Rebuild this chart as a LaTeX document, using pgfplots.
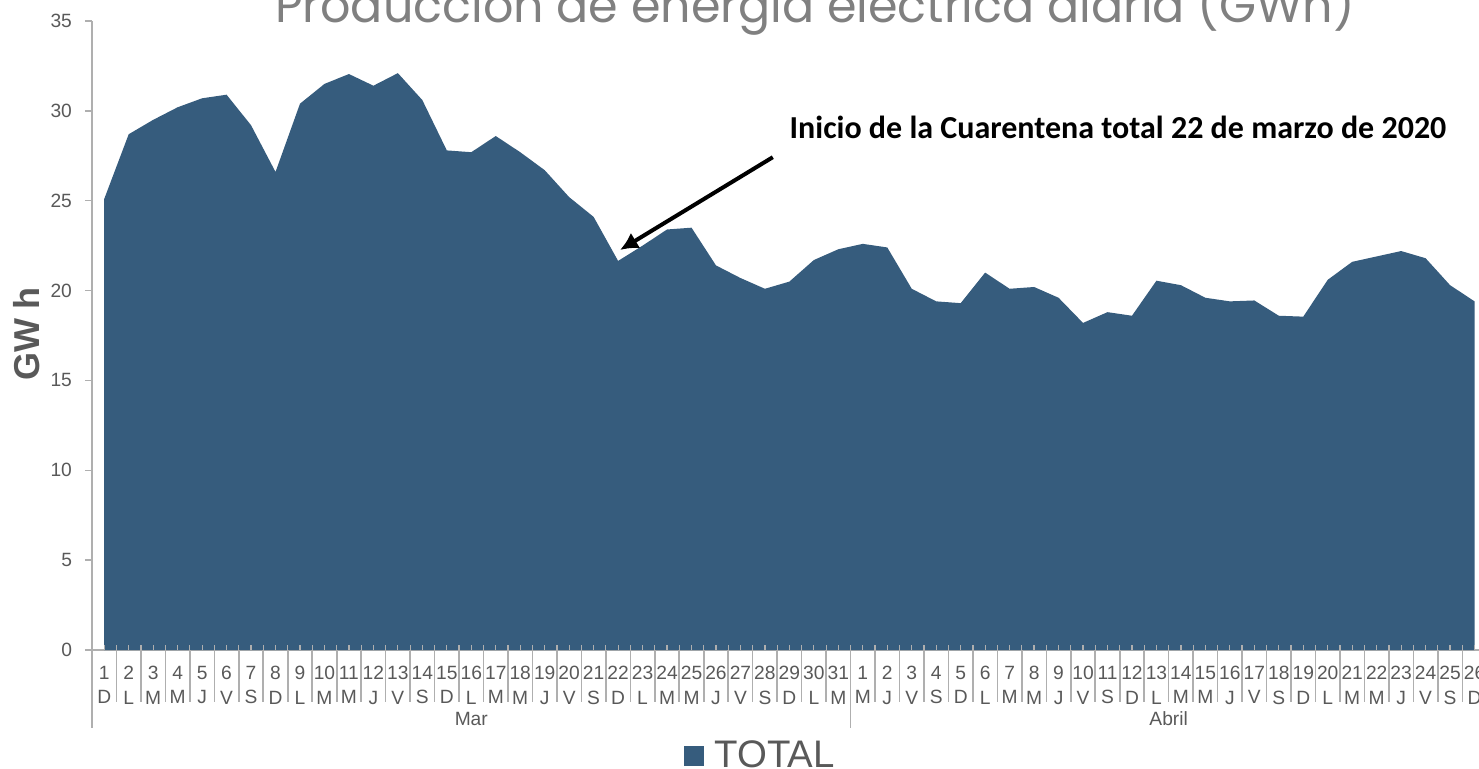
\documentclass[border=0pt]{standalone}
\usepackage{pgfplots}
\pgfplotsset{compat=1.18}
\usepackage{pgfplotstable}
\usepackage{fontspec}
\setmainfont{Liberation Sans}
\newfontfamily\titlefont{Poppins}
\newfontfamily\notefont{Carlito}
\usetikzlibrary{arrows.meta}
\definecolor{areablue}{RGB}{54,92,125}
\definecolor{axgray}{RGB}{175,175,175}
\definecolor{txtgray}{RGB}{89,89,89}
\definecolor{ttlgray}{RGB}{128,128,128}

\pgfplotstableread{
x y
1 25.1
2 28.7
3 29.5
4 30.2
5 30.7
6 30.9
7 29.2
8 26.6
9 30.4
10 31.5
11 32.05
12 31.4
13 32.1
14 30.6
15 27.8
16 27.7
17 28.6
18 27.7
19 26.7
20 25.2
21 24.1
22 21.65
23 22.5
24 23.4
25 23.5
26 21.4
27 20.7
28 20.1
29 20.5
30 21.7
31 22.3
32 22.6
33 22.4
34 20.1
35 19.4
36 19.3
37 21.0
38 20.1
39 20.2
40 19.6
41 18.2
42 18.8
43 18.6
44 20.55
45 20.3
46 19.6
47 19.4
48 19.45
49 18.6
50 18.55
51 20.6
52 21.6
53 21.9
54 22.2
55 21.8
56 20.3
57 19.4
}\datatable

\begin{document}
\begin{tikzpicture}
\begin{axis}[
  at={(46pt,59pt)}, anchor=south west,
  scale only axis, width=697.4pt, height=314.5pt,
  xmin=0.5, xmax=57.5, ymin=0, ymax=35,
  axis x line=bottom, axis y line=left,
  axis line style={-, draw=axgray, line width=0.7pt},
  tick style={draw=axgray, line width=0.7pt},
  tick align=outside, major tick length=3.5pt,
  ytick={0,5,...,35},
  xtick={1,...,57},
  xtick style={draw=none},
  xticklabels={{1\\D},{2\\L},{3\\M},{4\\M},{5\\J},{6\\V},{7\\S},{8\\D},{9\\L},{10\\M},{11\\M},{12\\J},{13\\V},{14\\S},{15\\D},{16\\L},{17\\M},{18\\M},{19\\J},{20\\V},{21\\S},{22\\D},{23\\L},{24\\M},{25\\M},{26\\J},{27\\V},{28\\S},{29\\D},{30\\L},{31\\M},
    {1\\M},{2\\J},{3\\V},{4\\S},{5\\D},{6\\L},{7\\M},{8\\M},{9\\J},{10\\V},{11\\S},{12\\D},{13\\L},{14\\M},{15\\M},{16\\J},{17\\V},{18\\S},{19\\D},{20\\L},{21\\M},{22\\M},{23\\J},{24\\V},{25\\S},{26\\D}},
  xticklabel style={align=center, font=\fontsize{9.6pt}{12.3pt}\selectfont, text=txtgray, inner sep=0pt, yshift=-4.3pt},
  yticklabel style={font=\fontsize{9.6pt}{11pt}\selectfont, text=txtgray, xshift=-3pt},
  /pgf/number format/assume math mode=true,
  ylabel={GW h},
  ylabel style={at={(axis description cs:-0.0466,0.5024)}, anchor=center, font=\bfseries\fontsize{18pt}{20pt}\selectfont, text=txtgray},
  legend style={at={(axis description cs:0.4245,-0.1685)}, anchor=west, draw=none, fill=none, inner sep=0pt,
    font=\fontsize{19.2pt}{21pt}\selectfont, text=txtgray},
  legend image code/.code={\fill[#1] (0pt,-5pt) rectangle (10pt,5pt);},
  legend cell align=left,
  clip=false,
]
\addplot[fill=areablue, draw=none] table[x=x, y=y] {\datatable} \closedcycle;
\addlegendentry{\hspace{3pt}TOTAL}
\pgfplotsinvokeforeach{0.5,1.5,...,57.5}{
  \draw[axgray, line width=0.8pt] (axis cs:#1,0) -- ([yshift=-26pt]axis cs:#1,0);
  \draw[axgray, line width=0.6pt] (axis cs:#1,0) -- ([yshift=2.5pt]axis cs:#1,0);
}
\pgfplotsinvokeforeach{1,...,57}{
  \draw[axgray, line width=0.6pt] (axis cs:#1,0) -- ([yshift=2.5pt]axis cs:#1,0);
}
\draw[axgray, line width=0.8pt] (axis cs:0.5,0) -- ([yshift=-39pt]axis cs:0.5,0);
\draw[axgray, line width=0.8pt] (axis cs:31.5,0) -- ([yshift=-39pt]axis cs:31.5,0);
\node[font=\fontsize{9.6pt}{11pt}\selectfont, text=txtgray] at ([yshift=-34.5pt]axis cs:16,0) {Mar};
\node[font=\fontsize{9.6pt}{11pt}\selectfont, text=txtgray] at ([yshift=-34.5pt]axis cs:44.5,0) {Abril};
\end{axis}
\node[anchor=base, font=\titlefont\fontsize{23.8pt}{28pt}\selectfont, text=ttlgray] at (407.5pt,373pt) {Producción de energía eléctrica diaria (GWh)};
\node[anchor=base, font=\notefont\bfseries\fontsize{16pt}{19pt}\selectfont] at (559pt,315pt) {Inicio de la Cuarentena total 22 de marzo de 2020};
\draw[line width=2pt, -{Latex[length=9pt,width=9pt]}] (386.4pt,305.4pt) -- (310pt,259pt);
\pgfresetboundingbox
\useasboundingbox (0,0) rectangle (739.5pt,384pt);
\end{tikzpicture}
\end{document}
